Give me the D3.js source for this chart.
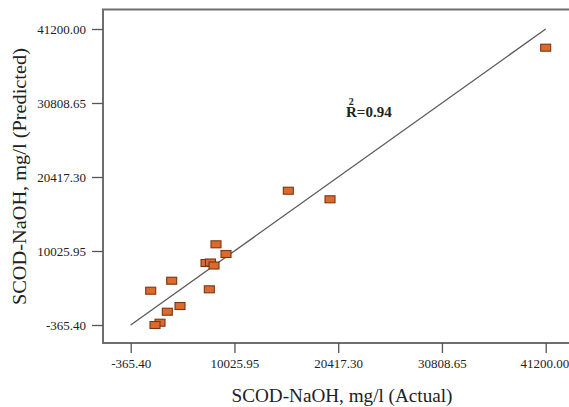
<!DOCTYPE html>
<html>
<head>
<meta charset="utf-8">
<script src="https://cdn.jsdelivr.net/npm/d3@7"></script>
<style>
  html, body { margin: 0; padding: 0; background: #fff; }
  svg { display: block; }
  text { font-family: "Liberation Serif", "Times New Roman", serif; fill: #222; }
</style>
</head>
<body>
<svg id="chart" width="569" height="407"></svg>
<script>
// Actual vs. predicted SCOD (NaOH pretreatment), mg/l
const actual    = [41200, 15420, 19597, 8178, 9180, 7177, 7627, 7978, 3741, 1638, 7508, 4573, 3300, 2570, 2069];
const predicted = [38574, 18492, 17285, 10965, 9603, 8339, 8409, 7988, 5853, 4450, 4646, 2301, 1500, -45, -368];
const tickValues = [-365.40, 10025.95, 20417.30, 30808.65, 41200.00];
const xTitle = "SCOD-NaOH, mg/l (Actual)";
const yTitle = "SCOD-NaOH, mg/l (Predicted)";
const r2Text = "0.94";

const svg = d3.select("#chart");

const x = d3.scaleLinear().domain([-365.40, 41200.00]).range([130.7, 545.7]);
const y = d3.scaleLinear().domain([-365.40, 41200.00]).range([325, 29]);
const fmt = d => d.toFixed(2);

const frame = { left: 103, top: 9.5, bottom: 343, right: 580 };

// plot frame (open on the right edge of the page)
svg.append("rect")
  .attr("x", frame.left).attr("y", frame.top)
  .attr("width", frame.right - frame.left).attr("height", frame.bottom - frame.top)
  .attr("fill", "none").attr("stroke", "#6e6e6e").attr("stroke-width", 2);

// x axis
const xAxis = svg.append("g")
  .attr("transform", `translate(0,${frame.bottom})`)
  .call(d3.axisBottom(x).tickValues(tickValues).tickFormat(fmt).tickSize(10).tickPadding(6));
xAxis.select(".domain").remove();
xAxis.selectAll(".tick line").attr("stroke", "#555").attr("stroke-width", 1.3);
xAxis.selectAll(".tick text").attr("font-size", 13).attr("fill", "#333")
  .attr("font-family", "Liberation Serif, serif");
// last label sits against the page edge
xAxis.selectAll(".tick text").filter(d => d === 41200.00)
  .attr("text-anchor", "end").attr("x", 23);

// y axis
const yAxis = svg.append("g")
  .attr("transform", `translate(${frame.left},0)`)
  .call(d3.axisLeft(y).tickValues(tickValues).tickFormat(fmt).tickSize(11).tickPadding(6));
yAxis.select(".domain").remove();
yAxis.selectAll(".tick line").attr("stroke", "#555").attr("stroke-width", 1.3);
yAxis.selectAll(".tick text").attr("font-size", 13).attr("fill", "#333")
  .attr("font-family", "Liberation Serif, serif");

// axis titles
svg.append("text")
  .attr("x", 231.5).attr("y", 401.5)
  .attr("font-size", 18)
  .attr("textLength", 221).attr("lengthAdjust", "spacingAndGlyphs")
  .text(xTitle);

svg.append("text")
  .attr("transform", "translate(25.5,305) rotate(-90)")
  .attr("x", 0).attr("y", 0)
  .attr("font-size", 18)
  .attr("textLength", 257).attr("lengthAdjust", "spacingAndGlyphs")
  .text(yTitle);

// line of equality: predicted = actual
svg.append("line")
  .attr("x1", x(-365.40)).attr("y1", y(-365.40))
  .attr("x2", x(41200.00)).attr("y2", y(41200.00))
  .attr("stroke", "#5a5a5a").attr("stroke-width", 1.3);

// design points
const pts = actual.map((a, i) => ({ a, p: predicted[i] }));
svg.append("g").selectAll("rect")
  .data(pts)
  .join("rect")
  .attr("x", d => x(d.a) - 5)
  .attr("y", d => y(d.p) - 3.5)
  .attr("width", 10).attr("height", 7)
  .attr("fill", "#dc6a2e")
  .attr("stroke", "#7a3512").attr("stroke-width", 1.1);

// coefficient of determination, with the exponent set above the R
const r2 = svg.append("text")
  .attr("x", 346).attr("y", 117)
  .attr("font-size", 15).attr("font-weight", "bold").attr("fill", "#1a1a1a");
r2.append("tspan").text("R");
r2.append("tspan").text("2").attr("font-size", 10).attr("dx", -8).attr("dy", -12);
r2.append("tspan").text("=" + r2Text).attr("dx", 3).attr("dy", 12);
</script>
</body>
</html>
